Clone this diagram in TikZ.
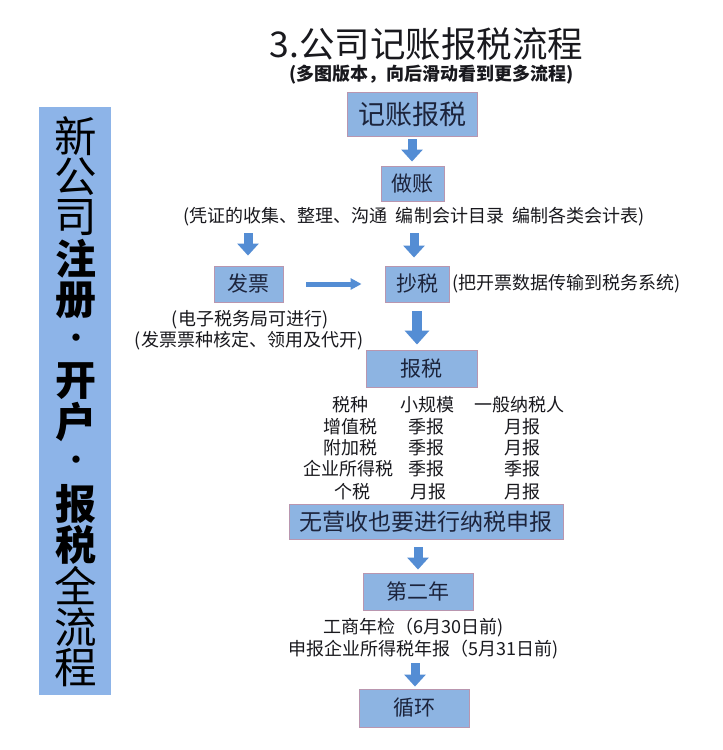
\documentclass[tikz,border=0pt]{standalone}
\usepackage{fontspec}
\setmainfont{Noto Sans CJK SC}
\usetikzlibrary{arrows.meta}
\definecolor{boxfill}{RGB}{141,180,226}
\definecolor{sidefill}{RGB}{141,180,232}
\definecolor{boxline}{RGB}{185,150,175}
\definecolor{arrowc}{RGB}{84,141,212}
\definecolor{txt}{RGB}{25,25,30}
\definecolor{boxtxt}{RGB}{28,36,60}
\begin{document}
\begin{tikzpicture}[x=1pt,y=-1pt,
  flowbox/.style={draw=boxline, line width=0.9pt, fill=boxfill, text=boxtxt, inner sep=0pt, anchor=center},
  boxfont/.style={font=\fontsize{21}{24}\selectfont},
  note/.style={text=txt, font=\fontsize{18}{20}\selectfont, inner sep=0pt, anchor=center},
  vchar/.style={text=black, font=\fontsize{42.5}{44}\selectfont, inner sep=0pt, anchor=center},
  vbold/.style={vchar, font=\fontsize{41}{44}\selectfont\bfseries},
  vdot/.style={vchar, font=\fontsize{26}{28}\selectfont\bfseries},
  bigarrow/.style={draw=arrowc, line width=9pt, -{Triangle[width=21pt,length=12pt]}},
  fatarrow/.style={draw=arrowc, line width=10pt, -{Triangle[width=24pt,length=14pt]}},
  thinarrow/.style={draw=arrowc, line width=5pt, -{Triangle[width=11pt,length=11pt]}}
]
\useasboundingbox (0,0) rectangle (723,750);
\fill[white] (0,0) rectangle (723,750);

% side banner
\node[fill=sidefill, inner sep=0pt, minimum width=72pt, minimum height=588pt] (side) at (75,401) {};
\node[vchar] (v1) at (76,136) {新};
\node[vchar] (v2) at (76,177) {公};
\node[vchar] (v3) at (76,218) {司};
\node[vbold] (v4) at (76,259) {注};
\node[vbold] (v5) at (76,300) {册};
\node[vdot] (v6) at (76,341) {·};
\node[vbold] (v7) at (76,381) {开};
\node[vbold] (v8) at (76,422) {户};
\node[vdot] (v9) at (76,463) {·};
\node[vbold] (v10) at (76,504) {报};
\node[vbold] (v11) at (76,545) {税};
\node[vchar] (v12) at (76,586) {全};
\node[vchar] (v13) at (76,627) {流};
\node[vchar] (v14) at (76,668) {程};

% title
\node[text=txt, inner sep=0pt, font=\fontsize{35.5}{38}\selectfont] (title) at (426.5,44) {3.公司记账报税流程};
\node[text=txt, inner sep=0pt, font=\fontsize{18}{20}\selectfont\bfseries] (sub) at (431.5,75) {(多图版本，向后滑动看到更多流程)};

% boxes
\node[flowbox, minimum width=130pt, minimum height=44pt, font=\fontsize{27}{30}\selectfont] (b1) at (412,114) {记账报税};
\node[flowbox, boxfont, minimum width=63pt, minimum height=35pt] (b2) at (412.5,183.5) {做账};
\node[note] (n1) at (414,217) {(凭证的收集、整理、沟通 \ 编制会计目录 \ 编制各类会计表)};
\node[flowbox, boxfont, minimum width=69pt, minimum height=36pt] (b3) at (248.5,284) {发票};
\node[flowbox, boxfont, minimum width=64pt, minimum height=36pt] (b4) at (417,284) {抄税};
\node[note, anchor=west] (n2) at (452,284) {(把开票数据传输到税务系统)};
\node[note] (n3) at (250,320) {(电子税务局可进行)};
\node[note] (n4) at (249,341) {(发票票种核定、领用及代开)};
\node[flowbox, boxfont, minimum width=111pt, minimum height=37pt] (b5) at (421.5,368.5) {报税};

% table
\node[note] (r1a) at (350,405) {税种};
\node[note] (r1b) at (427,405) {小规模};
\node[note] (r1c) at (519,405) {一般纳税人};
\node[note] (r2a) at (350,427) {增值税};
\node[note] (r2b) at (426,427) {季报};
\node[note] (r2c) at (522,427) {月报};
\node[note] (r3a) at (350,448) {附加税};
\node[note] (r3b) at (426,448) {季报};
\node[note] (r3c) at (522,448) {月报};
\node[note] (r4a) at (348,469) {企业所得税};
\node[note] (r4b) at (426,469) {季报};
\node[note] (r4c) at (522,469) {季报};
\node[note] (r5a) at (352,492) {个税};
\node[note] (r5b) at (428,492) {月报};
\node[note] (r5c) at (522,492) {月报};

\node[flowbox, minimum width=274pt, minimum height=35pt, font=\fontsize{23}{26}\selectfont] (b6) at (426,521.5) {无营收也要进行纳税申报};
\node[flowbox, boxfont, minimum width=110pt, minimum height=37pt] (b7) at (418,591.5) {第二年};
\node[note] (n5) at (414,628) {工商年检（6月30日前)};
\node[note] (n6) at (424,650) {申报企业所得税年报（5月31日前)};
\node[flowbox, boxfont, minimum width=110pt, minimum height=38pt] (b8) at (414,708) {循环};

% connector coordinates
\coordinate (c1) at (248,233);
\coordinate (c2) at (414,233);
\coordinate (c7) at (415,663);

% arrows
\draw[bigarrow, shorten <=3pt, shorten >=4pt] (b1.south) -- (b1.south |- b2.north);
\draw[bigarrow, shorten >=10pt] (c1) -- (c1 |- b3.north);
\draw[bigarrow, shorten >=8pt] (c2) -- (c2 |- b4.north);
\draw[thinarrow, shorten <=23pt, shorten >=23pt] (b3.east) -- (b4.west);
\draw[fatarrow, shorten <=9pt, shorten >=5pt] (b4.south) -- (b4.south |- b5.north);
\draw[bigarrow, shorten <=8pt, shorten >=3pt] (b6.south -| b7.north) -- (b7.north);
\draw[bigarrow, shorten >=2pt] (c7) -- (c7 |- b8.north);
\end{tikzpicture}
\end{document}
